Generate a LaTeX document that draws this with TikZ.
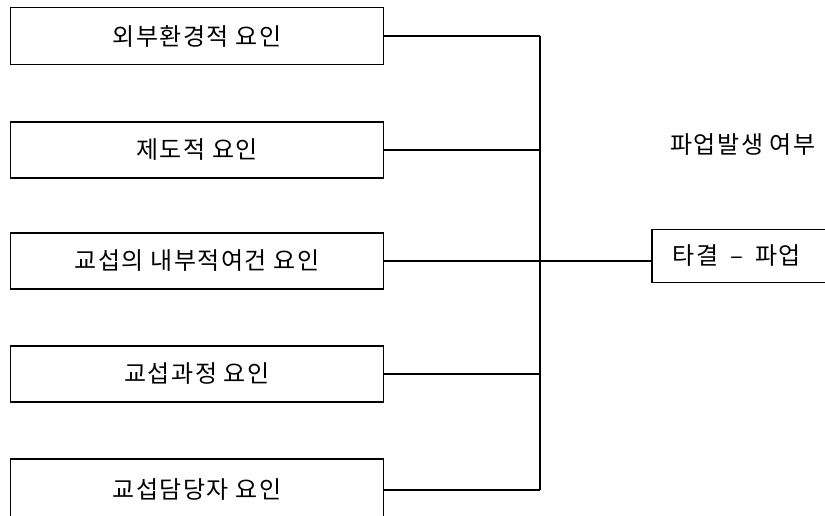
\documentclass[tikz,border=0pt]{standalone}
\usepackage{fontspec}
\newfontfamily\kr[LetterSpace=6]{Noto Sans CJK KR}
\usetikzlibrary{positioning}

\begin{document}
\begin{tikzpicture}[x=1pt,y=-1pt,line width=1.5pt,font=\kr\fontsize{24}{28}\selectfont]
    \tikzstyle{factor}=[draw,minimum width=373pt,inner sep=0pt]
    \tikzstyle{result}=[draw,anchor=west,text width=190pt,align=left,minimum height=53pt,inner xsep=21pt]
    \useasboundingbox (0,0) rectangle (825,515);

    \foreach \i/\y/\h/\txt in {1/36/57/외부환경적 요인, 2/150/56/제도적 요인, 3/261/56/교섭의 내부적여건 요인,
                               4/374/56/교섭과정 요인, 5/490/62/교섭담당자 요인}
    \node[factor,minimum height=\h pt] (F-\i) at (197,\y) {\txt};

    \node[result] (O-1) at (651,256) {타결\hspace{12pt}–\hspace{12pt}파업};
    \node (L-1) at (743,145) {파업발생 여부};

    \foreach \i in {1,...,5}
    \coordinate (J-\i) at (540,0 |- F-\i);

    \foreach \src in {1,...,5}
    \path (F-\src.east) edge (J-\src);

    \draw (J-1) -- (J-5);
    \draw (J-3) -- (J-3 -| O-1.west);
  \end{tikzpicture}
\end{document}
